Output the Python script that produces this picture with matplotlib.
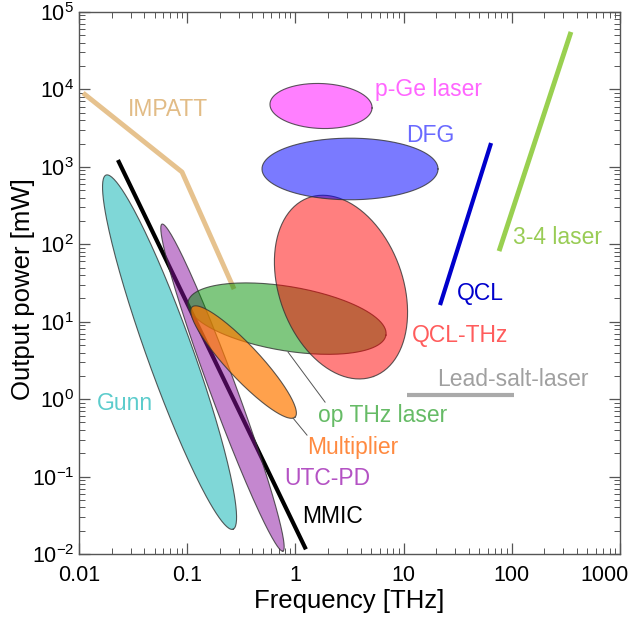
import numpy as np
import matplotlib
matplotlib.use('Agg')
import matplotlib.pyplot as plt
from matplotlib.transforms import ScaledTranslation

plt.rcParams['font.family'] = ['Liberation Sans', 'DejaVu Sans']
plt.rcParams['mathtext.fontset'] = 'custom'
plt.rcParams['mathtext.rm'] = 'Liberation Sans'
plt.rcParams['mathtext.it'] = 'Liberation Sans:italic'
plt.rcParams['mathtext.bf'] = 'Liberation Sans:bold'

# 영역(타원): 장축 양 끝점 (THz, mW) + 단축/장축 비율
ell_names = ['Gunn', 'UTC-PD', 'op THz laser', 'Multiplier', 'QCL-THz', 'DFG', 'p-Ge laser']
ell_f1 = [0.0178, 0.0585, 0.1016, 0.111, 1.32, 0.491, 0.582]
ell_p1 = [783, 182, 17.9, 15.5, 399, 938, 6470]
ell_f2 = [0.265, 0.767, 6.87, 0.991, 5.27, 20.8, 5.11]
ell_p2 = [0.0209, 0.0109, 6.71, 0.585, 1.96, 938, 5750]
ell_ratio = [0.122, 0.075, 0.32, 0.22, 0.65, 0.35, 0.44]
ell_colors = ['#00b0b0', '#8a10a0', '#009000', '#ff7a00', '#ff0000', '#0000ff', '#ff00ff']
ell_alpha = [0.5, 0.5, 0.5, 0.7, 0.5, 0.52, 0.5]

# 선 데이터
impatt_f = [0.0109, 0.0895, 0.271]
impatt_p = [8980, 857, 26.4]
mmic_f = [0.0229, 1.25]
mmic_p = [1224, 0.0115]
qcl_f = [21.7, 64.3]
qcl_p = [16.4, 2028]
laser34_f = [76.2, 352]
laser34_p = [81.6, 55200]
leadsalt_f = [10.7, 105]
leadsalt_p = [1.13, 1.13]

# 라벨 (중심 위치)
lab_text = ['IMPATT', 'DFG', 'QCL', '3-4 laser', 'QCL-THz', 'Lead-salt-laser',
            'op THz laser', 'Multiplier', 'UTC-PD', 'MMIC', 'Gunn']
lab_f = [0.0665, 17.5, 50.8, 267, 33.2, 103, 6.46, 3.40, 1.96, 2.18, 0.0266]
lab_p = [5420, 2500, 23.4, 124, 6.7, 1.81, 0.621, 0.240, 0.0953, 0.0308, 0.887]
lab_colors = ['#e2bc86', '#6a6aff', '#0000cc', '#99cc55', '#ff5c5c', '#a0a0a0',
              '#66bb66', '#ff8a40', '#b452c4', '#000000', '#5ccccc']

fig = plt.figure(figsize=(6.28, 6.28), dpi=100)
ax = fig.add_axes([0.1258, 0.1178, 0.8615, 0.8632])
ax.set_xscale('log')
ax.set_yscale('log')
ax.set_xlim(0.01, 1000)
ax.set_ylim(1e-2, 1e5)


def draw_ellipse(i, z):
    # 화면 좌표에서 타원을 만들고 데이터 좌표로 되돌림
    p1 = ax.transData.transform((ell_f1[i], ell_p1[i]))
    p2 = ax.transData.transform((ell_f2[i], ell_p2[i]))
    c = (p1 + p2) / 2
    d = p2 - p1
    a = np.hypot(d[0], d[1]) / 2
    b = a * ell_ratio[i]
    ang = np.arctan2(d[1], d[0])
    t = np.linspace(0, 2 * np.pi, 200)
    x = c[0] + a * np.cos(t) * np.cos(ang) - b * np.sin(t) * np.sin(ang)
    y = c[1] + a * np.cos(t) * np.sin(ang) + b * np.sin(t) * np.cos(ang)
    pts = ax.transData.inverted().transform(np.column_stack([x, y]))
    ax.fill(pts[:, 0], pts[:, 1], facecolor=ell_colors[i], alpha=ell_alpha[i],
            edgecolor='none', zorder=z)
    ax.plot(pts[:, 0], pts[:, 1], color='#333333', lw=0.8, alpha=0.8, zorder=z + 0.1)


draw_ellipse(0, 2)
ax.plot(mmic_f, mmic_p, color='black', lw=3, solid_capstyle='butt', zorder=3)
draw_ellipse(1, 4)
ax.plot(impatt_f, impatt_p, color='#e6c28e', lw=3.5, solid_capstyle='butt', zorder=5)
draw_ellipse(2, 6)
draw_ellipse(3, 7)
draw_ellipse(4, 8)
draw_ellipse(5, 9)
draw_ellipse(6, 10)

ax.plot(qcl_f, qcl_p, color='#0000cc', lw=3, solid_capstyle='butt', zorder=11)
ax.plot(laser34_f, laser34_p, color='#99d050', lw=3.5, solid_capstyle='butt', zorder=11)
ax.plot(leadsalt_f, leadsalt_p, color='#aaaaaa', lw=3, solid_capstyle='butt', zorder=11)

# 지시선
ax.plot([0.855, 1.88], [4.05, 0.915], color='#555555', lw=0.7, zorder=11)
ax.plot([0.951, 1.28], [0.569, 0.343], color='#555555', lw=0.7, zorder=11)

for txt, f, p, col in zip(lab_text, lab_f, lab_p, lab_colors):
    ax.text(f, p, txt, color=col, fontsize=16.5, ha='center', va='center', zorder=12)
ax.text(5.44, 10100, 'p-Ge laser', color='#ff66ff', fontsize=16.5, ha='left', va='center', zorder=12)

ax.set_xticks([0.01, 0.1, 1, 10, 100, 1000], ['0.01', '0.1', '1', '10', '100', '1000'])
ax.tick_params(which='both', direction='in', top=True, right=True, colors='#555555',
               labelcolor='black', labelsize=15.5)
ax.tick_params(which='major', length=8, width=0.9)
ax.tick_params(which='minor', length=4, width=0.7)
ax.tick_params(axis='x', pad=8)
for s in ax.spines.values():
    s.set_color('#555555')
    s.set_linewidth(1.0)

# 마지막 눈금 라벨은 그림 안쪽으로 이동
last = ax.get_xticklabels()[-1]
last.set_transform(last.get_transform() + ScaledTranslation(-0.16, 0, fig.dpi_scale_trans))

ax.set_xlabel('Frequency [THz]', fontsize=18.5)
ax.set_ylabel('Output power [mW]', fontsize=18.5)
ax.xaxis.set_label_coords(0.5, -0.064)
ax.yaxis.set_label_coords(-0.081, 0.489)

fig.savefig('out.png', dpi=100)
